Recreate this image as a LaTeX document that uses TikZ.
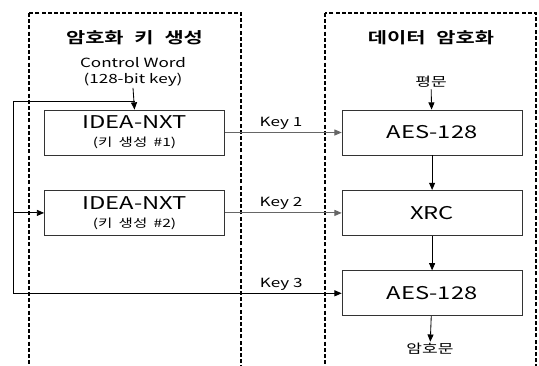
\documentclass[tikz,border=0pt]{standalone}
\usepackage{fontspec}
\setmainfont{Noto Sans CJK KR}[BoldFont={Noto Sans CJK KR Bold}, FakeStretch=1.35]
\usetikzlibrary{arrows.meta, positioning}

% wide word spaces for the headings and the small block lines
\newcommand\titlefont{\bfseries\fontsize{11}{13}\selectfont\spaceskip 0.7em\relax}
\newcommand\subtxt[1]{\\[-2pt]{\fontsize{8.2}{9.5}\selectfont\spaceskip 0.55em\relax #1}}

\tikzstyle{arrow} = [semithick, -{Triangle[length=1.8mm, width=1.5mm]}]
\tikzstyle{keyline} = [arrow, draw=black!60]
\tikzstyle{block} = [rectangle, draw=black!80, semithick, minimum width=45mm, minimum height=11.25mm, inner sep=0pt, align=center, font=\fontsize{12.5}{15}\selectfont]
\tikzstyle{frame} = [line width=0.65mm, dash pattern=on 1mm off 0.55mm]
\tikzstyle{title} = [font=\titlefont]
\tikzstyle{note} = [font=\fontsize{9}{11}\selectfont, align=center, inner sep=1pt]

\begin{document}
\begin{tikzpicture}[x=0.25mm, y=-0.25mm, node distance=20.1mm]
\clip (0,0) rectangle (539,365);
%----------------------------------------------------------------------------
% Dashed frames and their titles
\draw [frame] (29,13) rectangle (241,420);
\draw [frame] (325,13) rectangle (536,420);
\node (genTitle) [title] at (134.5,38) {암호화 키 생성};
\node (encTitle) [title] at (431,38) {데이터 암호화};

%----------------------------------------------------------------------------
% Blocks
\node (gen1) [block] at (134.5,132.5) {IDEA-NXT\subtxt{(키 생성 \#1)}};
\node (gen2) [block, below of = gen1] {IDEA-NXT\subtxt{(키 생성 \#2)}};
\node (aes1) [block, right of = gen1, node distance = 74.4mm] {AES-128};
\node (xrc) [block, below of = aes1] {XRC};
\node (aes2) [block, below of = xrc] {AES-128};

% Inputs and output
\node (ctrlWord) [note] at (133,72) {Control Word\\(128-bit key)};
\node (plain) [note] at (431,82) {평문};
\node (cipher) [note] at (430,349) {암호문};

%----------------------------------------------------------------------------
% Lines
\coordinate (loop) at (13,101);
\draw [arrow] (ctrlWord.south) -- (gen1.north);
\draw [semithick] (gen1.north |- loop) -- (loop);
\draw [arrow] (loop) |- (aes2.west);
\draw [arrow] (loop |- gen2) -- (gen2.west);

\draw [arrow] (plain) -- (aes1);
\draw [arrow] (aes1) -- (xrc);
\draw [arrow] (xrc) -- (aes2);
\draw [arrow] (aes2) -- (cipher);

% Keys
\draw [keyline] (gen1) -- node[note, above=1pt, pos=0.48] {Key 1} (aes1);
\draw [keyline] (gen2) -- node[note, above=1pt, pos=0.48] {Key 2} (xrc);
\path (loop |- aes2) -- node[note, above=1pt, pos=0.816] {Key 3} (aes2.west);
\end{tikzpicture}
\end{document}
